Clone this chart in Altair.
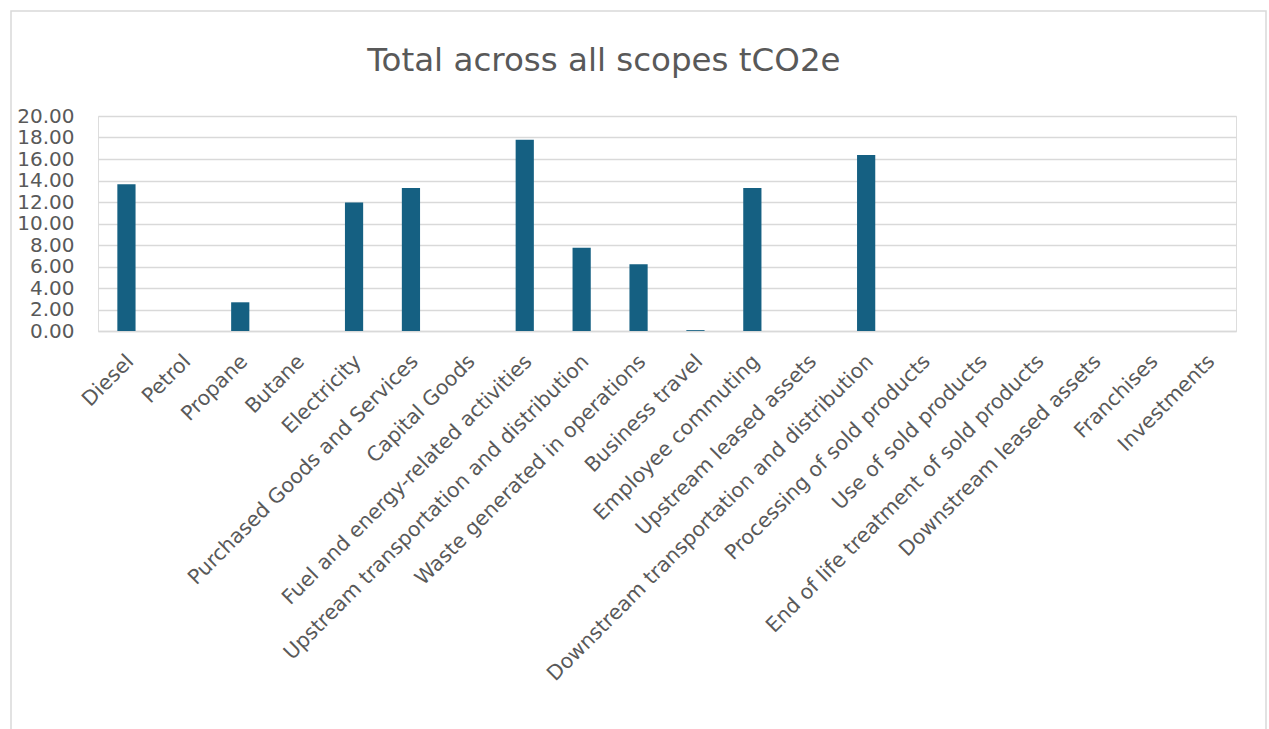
import altair as alt
import pandas as pd

categories = [
    "Diesel", "Petrol", "Propane", "Butane", "Electricity",
    "Purchased Goods and Services", "Capital Goods",
    "Fuel and energy-related activities",
    "Upstream transportation and distribution",
    "Waste generated in operations", "Business travel",
    "Employee commuting", "Upstream leased assets",
    "Downstream transportation and distribution",
    "Processing of sold products", "Use of sold products",
    "End of life treatment of sold products",
    "Downstream leased assets", "Franchises", "Investments",
]
values = [13.65, 0.0, 2.67, 0.0, 11.95, 13.30, 0.0, 17.80, 7.75, 6.20,
          0.08, 13.30, 0.0, 16.37, 0.0, 0.0, 0.0, 0.0, 0.0, 0.0]
y_ticks = [0, 2, 4, 6, 8, 10, 12, 14, 16, 18, 20]

df = pd.DataFrame({"category": categories, "value": values})

W, H = 1138, 215
FONT = "DejaVu Sans"

bars = alt.Chart(df).mark_bar(color="#156082").encode(
    x=alt.X("category:N", sort=categories, title=None,
            scale=alt.Scale(paddingInner=0.68, paddingOuter=0.34),
            axis=alt.Axis(labelAngle=-45, labelAlign="right", labelBaseline="top",
                          labelPadding=20, labelOffset=-3, ticks=False, domain=True,
                          domainColor="#D9D9D9", domainWidth=1.5,
                          labelFontSize=20.5, labelColor="#595959",
                          labelFont=FONT, labelLimit=0)),
    y=alt.Y("value:Q", title=None,
            scale=alt.Scale(domain=[0, 20], nice=False),
            axis=alt.Axis(values=y_ticks, format=".2f", ticks=False, domain=False,
                          gridColor="#D9D9D9", gridWidth=1.5,
                          labelFontSize=20, labelColor="#595959",
                          labelFont=FONT, labelPadding=24)),
)

frame = alt.Chart(pd.DataFrame({"f": [0]})).mark_rect(
    fill=None, stroke="#D9D9D9", strokeWidth=1.5
).encode(
    x=alt.value(-87), x2=alt.value(1168), y=alt.value(-105), y2=alt.value(630)
)

chart = alt.layer(frame, bars).properties(
    width=W, height=H,
    title=alt.TitleParams("Total across all scopes tCO2e", fontSize=32.5,
                          font=FONT, fontWeight="normal",
                          color="#595959", anchor="start", dx=357, offset=-67),
    padding={"left": 10, "top": 10, "right": 0, "bottom": 0},
    autosize=alt.AutoSizeParams(type="pad"),
).configure_view(stroke=None).configure(background="white")

chart.save("out.html", embed_options={"renderer": "svg", "actions": False})
